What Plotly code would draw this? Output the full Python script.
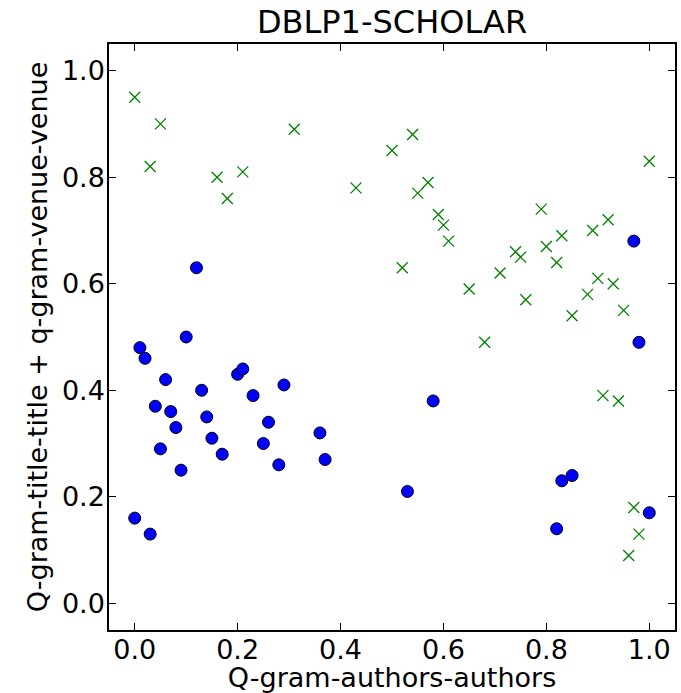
import plotly.graph_objects as go

# Blue circles
blue_x = [0.98, 0.58, 0.53, 0.83, 0.85, 0.82, 1.00, 0.97, 0.12,
          0.10, 0.01, 0.02, 0.06, 0.04, 0.07, 0.08, 0.05, 0.09,
          0.13, 0.14, 0.15, 0.17, 0.20, 0.21, 0.23, 0.29, 0.26,
          0.25, 0.28, 0.36, 0.37, 0.00, 0.03]
blue_y = [0.49, 0.38, 0.21, 0.23, 0.24, 0.14, 0.17, 0.68, 0.63,
          0.50, 0.48, 0.46, 0.42, 0.37, 0.36, 0.33, 0.29, 0.25,
          0.40, 0.35, 0.31, 0.28, 0.43, 0.44, 0.39, 0.41, 0.34,
          0.30, 0.26, 0.32, 0.27, 0.16, 0.13]

# Green crosses
green_x = [0.00, 0.05, 0.03, 0.16, 0.18, 0.21, 0.31, 0.43, 0.50, 0.52,
           0.54, 0.57, 0.55, 0.59, 0.60, 0.61, 0.65, 0.71, 0.74, 0.75,
           0.76, 0.79, 0.80, 0.83, 0.82, 0.89, 0.92, 0.90, 0.88, 0.93,
           0.85, 0.95, 1.00, 0.68, 0.91, 0.94, 0.97, 0.98, 0.96]
green_y = [0.95, 0.90, 0.82, 0.80, 0.76, 0.81, 0.89, 0.78, 0.85, 0.63,
           0.88, 0.79, 0.77, 0.73, 0.71, 0.68, 0.59, 0.62, 0.66, 0.65,
           0.57, 0.74, 0.67, 0.69, 0.64, 0.70, 0.72, 0.61, 0.58, 0.60,
           0.54, 0.55, 0.83, 0.49, 0.39, 0.38, 0.18, 0.13, 0.09]

tick_vals = [0.0, 0.2, 0.4, 0.6, 0.8, 1.0]
tick_text = ["0.0", "0.2", "0.4", "0.6", "0.8", "1.0"]

FONT = "DejaVu Sans"

fig = go.Figure()
fig.add_trace(go.Scatter(
    x=green_x, y=green_y, mode="markers",
    marker=dict(symbol="x-thin", size=11, color="#008000",
                line=dict(color="#008000", width=1.3)),
    showlegend=False))
fig.add_trace(go.Scatter(
    x=blue_x, y=blue_y, mode="markers",
    marker=dict(symbol="circle", size=12, color="#0000ff",
                line=dict(color="black", width=1)),
    showlegend=False))

axis_common = dict(
    showgrid=False, zeroline=False, showline=True, linecolor="black",
    linewidth=1.5, mirror="ticks", ticks="inside", ticklen=7,
    tickwidth=1, tickcolor="black",
    tickvals=tick_vals, ticktext=tick_text,
    tickfont=dict(family=FONT, size=27, color="black"),
)

fig.update_layout(
    width=681, height=693,
    margin=dict(l=109, r=4, t=44, b=63),
    paper_bgcolor="white", plot_bgcolor="white",
    title=dict(text="DBLP1-SCHOLAR", x=0.5, xanchor="center",
               xref="paper", y=1 - 22 / 693, yref="container",
               yanchor="middle",
               font=dict(family=FONT, size=32, color="black")),
    xaxis=dict(range=[-0.05, 1.05], ticklabelstandoff=-5,
               title=dict(text="Q-gram-authors-authors", standoff=2,
                          font=dict(family=FONT, size=27, color="black")),
               **axis_common),
    yaxis=dict(range=[-0.05, 1.05], ticklabelstandoff=-3,
               title=dict(text="Q-gram-title-title + q-gram-venue-venue",
                          standoff=6,
                          font=dict(family=FONT, size=27, color="black")),
               **axis_common),
)

fig.write_html("out.html",
               config={"displayModeBar": False},
               post_script="document.body.style.margin='0px';")
